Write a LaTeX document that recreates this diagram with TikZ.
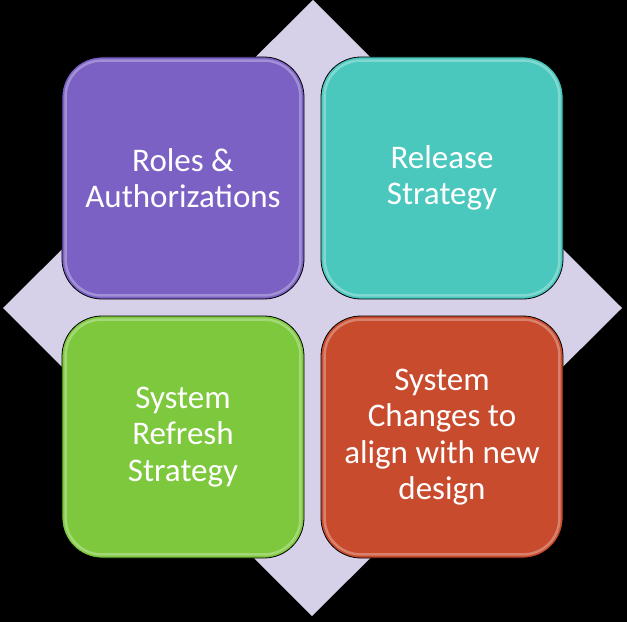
\documentclass[tikz,border=0pt]{standalone}
\usepackage{fontspec}
\setmainfont{Carlito}
\definecolor{bgdiamond}{HTML}{D6D1E9}
\definecolor{cpurple}{HTML}{7B61C4}
\definecolor{cteal}{HTML}{4BC8BE}
\definecolor{cgreen}{HTML}{7DC83D}
\definecolor{cred}{HTML}{C84B2D}
\tikzset{
  tile/.style={draw=black, line width=0.8bp, rounded corners=40bp,
    minimum width=242bp, minimum height=242bp, inner sep=0pt,
    text=white, align=center, font=\fontsize{33bp}{36.5bp}\selectfont},
  gloss/.style={draw=white, draw opacity=0.3, line width=2.5bp, rounded corners=36bp}
}
\begin{document}
\begin{tikzpicture}[x=1bp,y=-1bp]
\fill[black] (0,0) rectangle (627,622);
\useasboundingbox (0,0) rectangle (627,622);
\coordinate (dt) at (313,0);
\coordinate (dr) at (622,308);
\coordinate (db) at (312,616);
\coordinate (dl) at (3,308);
\fill[bgdiamond] (dt) -- (dr) -- (db) -- (dl) -- cycle;
\node[tile, fill=cpurple] (roles) at (183,178) {Roles \&\\Authorizations};
\node[tile, fill=cteal] (release) at (442,178) {Release\\Strategy};
\node[tile, fill=cgreen] (refresh) at (183,437) {System\\Refresh\\Strategy};
\node[tile, fill=cred] (changes) at (442,437) {System\\Changes to\\align with new\\design};
\foreach \n in {roles,release,refresh,changes}{
  \draw[gloss] ([shift={(4,4)}]\n.north west) rectangle ([shift={(-4,-4)}]\n.south east);
}
\end{tikzpicture}
\end{document}
